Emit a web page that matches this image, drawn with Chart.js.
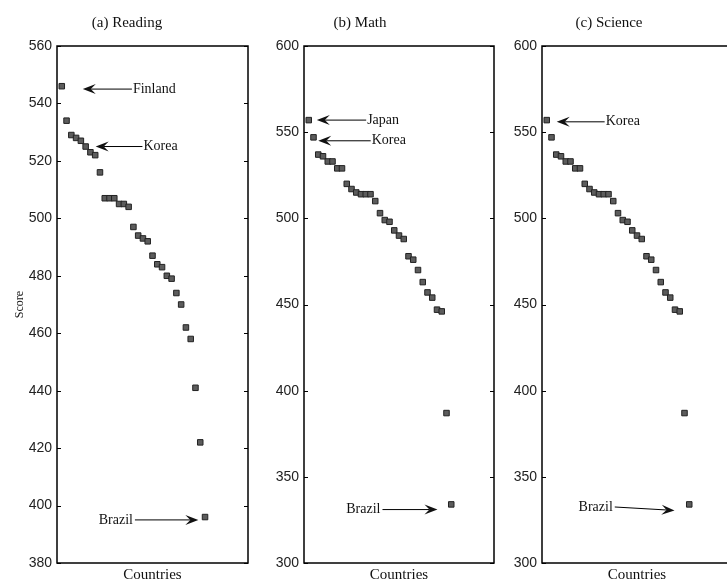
<!DOCTYPE html>
<html>
<head>
<meta charset="utf-8">
<script src="https://cdn.jsdelivr.net/npm/chart.js@4.4.0/dist/chart.umd.min.js"></script>
<style>
  body { margin: 0; background: #fff; width: 727px; height: 582px; overflow: hidden; position: relative; }
  .panel { position: absolute; top: 0; height: 582px; }
</style>
</head>
<body>
<div class="panel" style="left:0;width:253px"><canvas id="readingChart"></canvas></div>
<div class="panel" style="left:247px;width:252px"><canvas id="mathChart"></canvas></div>
<div class="panel" style="left:485px;width:252px"><canvas id="scienceChart"></canvas></div>
<script>
// PISA scores, countries sorted from best to worst
var readingScores = [546, 534, 529, 528, 527, 525, 523, 522, 516, 507, 507, 507, 505, 505, 504, 497,
                     494, 493, 492, 487, 484, 483, 480, 479, 474, 470, 462, 458, 441, 422, 396];
var mathScores = [557, 547, 537, 536, 533, 533, 529, 529, 520, 517, 515, 514, 514, 514, 510, 503,
                  499, 498, 493, 490, 488, 478, 476, 470, 463, 457, 454, 447, 446, 387, 334];
var scienceScores = [557, 547, 537, 536, 533, 533, 529, 529, 520, 517, 515, 514, 514, 514, 510, 503,
                     499, 498, 493, 490, 488, 478, 476, 470, 463, 457, 454, 447, 446, 387, 334];

var readingTicks = [380, 400, 420, 440, 460, 480, 500, 520, 540, 560];
var mathTicks = [300, 350, 400, 450, 500, 550, 600];
var scienceTicks = [300, 350, 400, 450, 500, 550, 600];

// annotations: label, text position, arrow tip (data units)
var readingNotes = [
    { label: "Finland", tx: 15.9, ty: 545, ax: 5.4, ay: 545, align: "left" },
    { label: "Korea", tx: 18.1, ty: 525, ax: 8.1, ay: 525, align: "left" },
    { label: "Brazil", tx: 15.9, ty: 395, ax: 29.6, ay: 395, align: "right" }
];
var mathNotes = [
    { label: "Japan", tx: 13.3, ty: 557, ax: 2.7, ay: 557, align: "left" },
    { label: "Korea", tx: 14.25, ty: 545, ax: 3.0, ay: 545, align: "left" },
    { label: "Brazil", tx: 16.1, ty: 331, ax: 28.1, ay: 331, align: "right" }
];
var scienceNotes = [
    { label: "Korea", tx: 13.4, ty: 556, ax: 3.1, ay: 556, align: "left" },
    { label: "Brazil", tx: 14.9, ty: 332.5, ax: 27.9, ay: 330.5, align: "right" }
];

var serif = "'Liberation Serif', 'Times New Roman', serif";

function drawArrow(ctx, x0, y0, x1, y1) {
    var ang = Math.atan2(y1 - y0, x1 - x0);
    var len = 13, half = 5, notch = 8;
    ctx.beginPath();
    ctx.moveTo(x0, y0);
    ctx.lineTo(x1 - Math.cos(ang) * notch, y1 - Math.sin(ang) * notch);
    ctx.stroke();
    ctx.save();
    ctx.translate(x1, y1);
    ctx.rotate(ang);
    ctx.beginPath();
    ctx.moveTo(0, 0);
    ctx.lineTo(-len, -half);
    ctx.lineTo(-notch, 0);
    ctx.lineTo(-len, half);
    ctx.closePath();
    ctx.fill();
    ctx.restore();
}

var framePlugin = {
    id: "frame",
    afterDraw: function (chart) {
        var o = chart.options.plugins.frame;
        var ctx = chart.ctx, a = chart.chartArea;
        var xs = chart.scales.x, ys = chart.scales.y;
        ctx.save();
        ctx.strokeStyle = "#000";
        ctx.fillStyle = "#000";
        ctx.lineWidth = 1.5;
        ctx.strokeRect(a.left, a.top, a.right - a.left, a.bottom - a.top);
        // inward ticks on both sides
        ctx.lineWidth = 1;
        ys.ticks.forEach(function (t) {
            var py = Math.round(ys.getPixelForValue(t.value)) + 0.5;
            ctx.beginPath();
            ctx.moveTo(a.left, py); ctx.lineTo(a.left + 4, py);
            ctx.moveTo(a.right, py); ctx.lineTo(a.right - 4, py);
            ctx.stroke();
        });
        // panel title
        ctx.font = "15px " + serif;
        ctx.fillStyle = "#111";
        ctx.textAlign = "center";
        ctx.textBaseline = "middle";
        ctx.fillText(o.title, o.titleX, 23);
        // annotations
        ctx.font = "14px " + serif;
        ctx.strokeStyle = "#000";
        ctx.fillStyle = "#111";
        o.notes.forEach(function (n) {
            var tx = xs.getPixelForValue(n.tx), ty = ys.getPixelForValue(n.ty);
            var ax = xs.getPixelForValue(n.ax), ay = ys.getPixelForValue(n.ay);
            ctx.textAlign = n.align;
            ctx.fillText(n.label, tx, ty);
            var sx = n.align === "left" ? tx - 1 : tx + 2;
            drawArrow(ctx, sx, ty, ax, ay);
        });
        ctx.restore();
    }
};

function makePanel(id, scores, ticks, title, titleX, notes, showScore) {
    var points = scores.map(function (v, i) { return { x: i + 1, y: v }; });
    return new Chart(document.getElementById(id), {
        type: "scatter",
        data: {
            datasets: [{
                data: points,
                pointStyle: "rect",
                pointRadius: 3.9,
                pointHoverRadius: 3.9,
                backgroundColor: "#5c5c5c",
                borderColor: "#222",
                borderWidth: 1
            }]
        },
        options: {
            responsive: true,
            maintainAspectRatio: false,
            animation: false,
            layout: { padding: { top: 46, right: 5, left: 0, bottom: 0 } },
            plugins: {
                legend: { display: false },
                tooltip: { enabled: false },
                frame: { title: title, titleX: titleX, notes: notes }
            },
            scales: {
                x: {
                    type: "linear",
                    min: 0,
                    max: 40,
                    grid: { display: false, drawTicks: false },
                    border: { display: false },
                    ticks: { display: false },
                    title: {
                        display: true,
                        text: "Countries",
                        color: "#111",
                        font: { family: serif, size: 15 },
                        padding: { top: 0, bottom: -2 }
                    },
                    afterFit: function (s) { s.height = 19; }
                },
                y: {
                    min: ticks[0],
                    max: ticks[ticks.length - 1],
                    afterBuildTicks: function (s) {
                        s.ticks = ticks.map(function (v) { return { value: v }; });
                    },
                    grid: { display: false, drawTicks: false },
                    border: { display: false },
                    ticks: {
                        color: "#222",
                        padding: 5,
                        font: { family: "'Liberation Sans', Arial, sans-serif", size: 14 }
                    },
                    title: {
                        display: showScore,
                        text: "Score",
                        color: "#111",
                        font: { family: serif, size: 12 },
                        padding: { top: 13, bottom: 0 }
                    },
                    afterFit: function (s) { s.width = 57; }
                }
            }
        },
        plugins: [framePlugin]
    });
}

makePanel("readingChart", readingScores, readingTicks, "(a) Reading", 127, readingNotes, true);
makePanel("mathChart", mathScores, mathTicks, "(b) Math", 113, mathNotes, false);
makePanel("scienceChart", scienceScores, scienceTicks, "(c) Science", 124, scienceNotes, false);
</script>
</body>
</html>
